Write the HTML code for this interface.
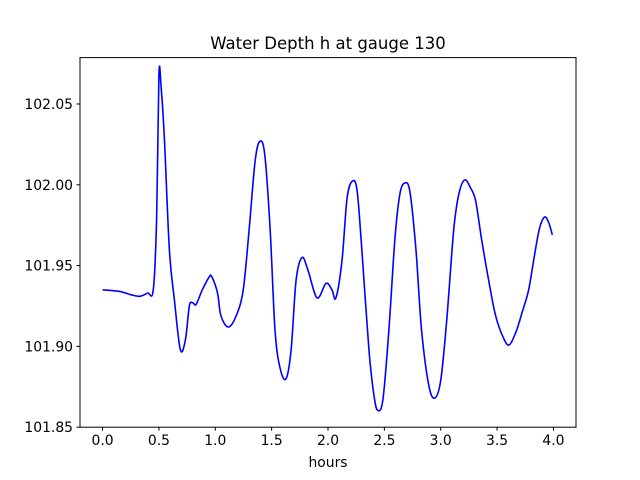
<!DOCTYPE html>
<html><head><meta charset="utf-8"><style>
body{margin:0;background:#fff;}
svg{display:block;font-family:"DejaVu Sans","Liberation Sans",sans-serif;}
</style></head><body>
<svg id="chart" width="640" height="480">
<rect width="640" height="480" fill="#fff"/>
<text x="328" y="49" text-anchor="middle" font-size="16.5">Water Depth h at gauge 130</text>
<g id="plot"></g>
<rect x="80" y="57.6" width="496" height="369.6" fill="none" stroke="#000" stroke-width="1"/>
<text x="328" y="467" text-anchor="middle" font-size="13.9">hours</text>
</svg>
<script>
const xTicks=[0,0.5,1,1.5,2,2.5,3,3.5,4];
const xTickLabels=["0.0","0.5","1.0","1.5","2.0","2.5","3.0","3.5","4.0"];
const yTicks=[101.85,101.90,101.95,102.00,102.05];
const yTickLabels=["101.85","101.90","101.95","102.00","102.05"];
const tHours=[0,0.15,0.25,0.33,0.4,0.45,0.48,0.5,0.52,0.549,0.593,0.637,0.69,0.735,0.77,0.8,0.83,0.885,0.947,0.97,1.02,1.05,1.115,1.186,1.248,1.3,1.354,1.398,1.44,1.487,1.53,1.575,1.628,1.673,1.717,1.77,1.823,1.903,1.982,2.035,2.07,2.124,2.168,2.212,2.257,2.3,2.363,2.407,2.44,2.487,2.54,2.593,2.637,2.68,2.726,2.78,2.83,2.894,2.947,3.0,3.053,3.115,3.16,3.212,3.265,3.31,3.363,3.425,3.487,3.558,3.61,3.673,3.726,3.78,3.832,3.876,3.92,3.956,3.99];
const depth=[101.935,101.934,101.932,101.931,101.933,101.935,101.98,102.068,102.06,102.028,101.9596,101.929,101.898,101.904,101.925,101.927,101.926,101.935,101.943,101.943,101.933,101.919,101.912,101.919,101.935,101.972,102.015,102.027,102.018,101.972,101.91,101.8865,101.88,101.898,101.941,101.955,101.947,101.93,101.939,101.935,101.93,101.953,101.991,102.002,101.997,101.96,101.898,101.87,101.8605,101.867,101.91,101.966,101.994,102.001,101.996,101.96,101.91,101.876,101.868,101.879,101.916,101.972,101.994,102.003,101.998,101.99,101.966,101.941,101.919,101.905,101.901,101.91,101.922,101.935,101.9565,101.973,101.98,101.977,101.969];
const L=80,R=576,T=57.6,B=427.2,X0=-0.2,X1=4.2,Y0=101.85,Y1=102.0787;
const sx=v=>L+(v-X0)/(X1-X0)*(R-L);
const sy=v=>B-(v-Y0)/(Y1-Y0)*(B-T);
const NS="http://www.w3.org/2000/svg";
const g=document.getElementById('plot');
function mk(tag,attrs){const e=document.createElementNS(NS,tag);for(const k in attrs)e.setAttribute(k,attrs[k]);g.appendChild(e);return e;}
xTicks.forEach((v,i)=>{
 const l=mk('line',{x1:sx(v),x2:sx(v),y1:B,y2:B+3.5,stroke:'#000'});
 
 
 const t=mk('text',{x:sx(v),y:B+18,'text-anchor':'middle','font-size':'13.9'});
 t.textContent=xTickLabels[i];
 
 
});
yTicks.forEach((v,i)=>{
 const l=mk('line',{x1:L-3.5,x2:L,y1:sy(v),y2:sy(v),stroke:'#000'});
 
 
 const t=mk('text',{x:L-7,y:sy(v)+5,'text-anchor':'end','font-size':'13.9'});
 t.textContent=yTickLabels[i];
 
 
});
const pts=tHours.map((t,i)=>[sx(t),sy(depth[i])]);
let d='M'+pts[0][0]+','+pts[0][1];
for(let i=0;i<pts.length-1;i++){
 const p0=pts[Math.max(0,i-1)],p1=pts[i],p2=pts[i+1],p3=pts[Math.min(pts.length-1,i+2)];
 const c1=[p1[0]+(p2[0]-p0[0])/6,p1[1]+(p2[1]-p0[1])/6];
 const c2=[p2[0]-(p3[0]-p1[0])/6,p2[1]-(p3[1]-p1[1])/6];
 d+=` C${c1[0]},${c1[1]} ${c2[0]},${c2[1]} ${p2[0]},${p2[1]}`;
}
const line=mk('path',{d:d,fill:'none',stroke:'#0000ff','stroke-width':'1.6'});


</script>
</body></html>
